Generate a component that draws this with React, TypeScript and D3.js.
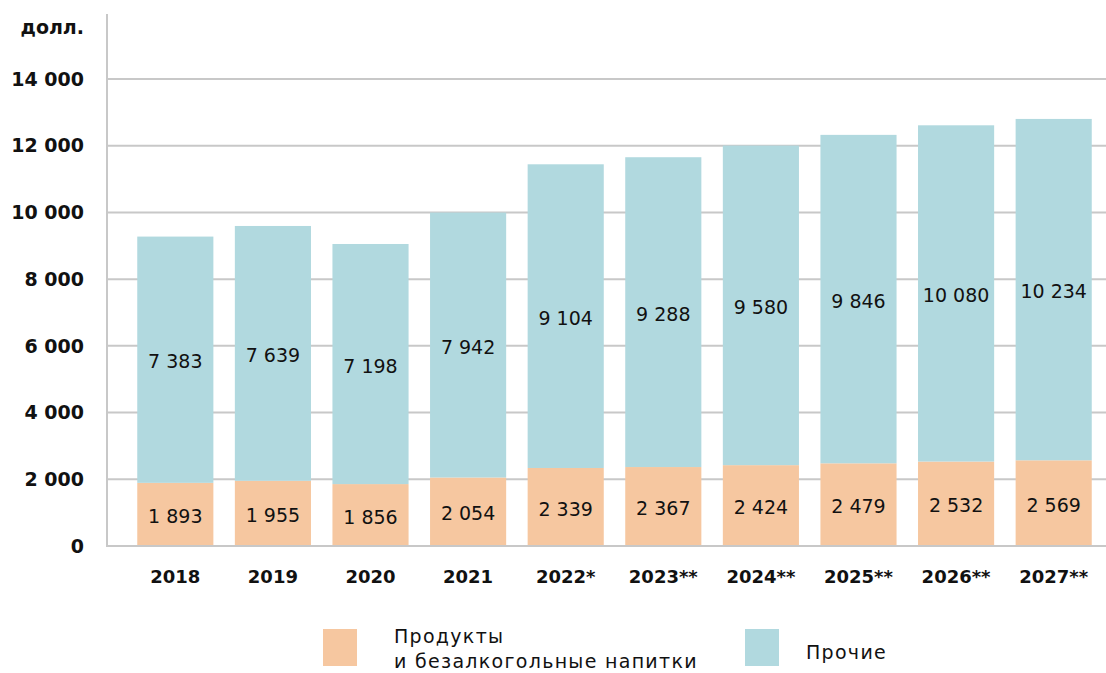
import * as d3 from "d3";

const years = ["2018", "2019", "2020", "2021", "2022*", "2023**", "2024**", "2025**", "2026**", "2027**"];
const food = [1893, 1955, 1856, 2054, 2339, 2367, 2424, 2479, 2532, 2569];
const other = [7383, 7639, 7198, 7942, 9104, 9288, 9580, 9846, 10080, 10234];
const yTicks = [0, 2000, 4000, 6000, 8000, 10000, 12000, 14000];
const legendItems = [
  { lines: ["Продукты", "и безалкогольные напитки"], color: "#F6C7A0" },
  { lines: ["Прочие"], color: "#B1D9DF" },
];

const W = 1106, H = 673;
const FONT = "'DejaVu Sans', 'Noto Sans', sans-serif";

const fmt = (v: number) => {
  const s = String(v);
  return s.length > 3 ? s.slice(0, s.length - 3) + " " + s.slice(-3) : s;
};

export default function App() {
  const x = d3.scaleBand<string>().domain(years).range([107, 1122]).paddingInner(0.22).paddingOuter(0.31);
  const y = d3.scaleLinear().domain([0, 14000]).range([546, 79]);

  return (
    <svg width={W} height={H} style={{ position: "absolute", left: 0, top: 0, fontFamily: FONT }}>
      {/* сетка */}
      {yTicks.map((t) => (
        <g key={t}>
          <line x1={107} x2={W} y1={y(t)} y2={y(t)} stroke="#c8c8c8" strokeWidth={2} />
          <text x={84} y={y(t)} dy="0.35em" textAnchor="end" fontSize={19} fontWeight={700} fill="#111">
            {fmt(t)}
          </text>
        </g>
      ))}
      <line x1={107} x2={107} y1={14} y2={547} stroke="#c8c8c8" strokeWidth={2} />
      <text x={84} y={27} dy="0.35em" textAnchor="end" fontSize={19} fontWeight={700} fill="#111">долл.</text>

      {/* столбцы */}
      {years.map((yr, i) => {
        const bx = x(yr)!;
        const bw = x.bandwidth();
        const f = food[i], o = other[i];
        return (
          <g key={yr}>
            <rect x={bx} width={bw} y={y(f)} height={y(0) - y(f)} fill="#F6C7A0" />
            <rect x={bx} width={bw} y={y(f + o)} height={y(f) - y(f + o)} fill="#B1D9DF" />
            <text x={bx + bw / 2} y={(y(0) + y(f)) / 2 + 2} dy="0.35em" textAnchor="middle" fontSize={19} fill="#111">
              {fmt(f)}
            </text>
            <text x={bx + bw / 2} y={(y(f) + y(f + o)) / 2 + 2} dy="0.35em" textAnchor="middle" fontSize={19} fill="#111">
              {fmt(o)}
            </text>
            <text x={bx + bw / 2} y={577} dy="0.35em" textAnchor="middle" fontSize={18} fontWeight={700} fill="#111">
              {yr}
            </text>
          </g>
        );
      })}
      <line x1={107} x2={W} y1={546} y2={546} stroke="#c8c8c8" strokeWidth={2} />

      {/* легенда */}
      {legendItems.map((it, i) => {
        const lx = i === 0 ? 323 : 745;
        const tx = i === 0 ? 394 : 806;
        return (
          <g key={i}>
            <rect x={lx} y={629} width={34} height={37} fill={it.color} />
            {it.lines.map((l, j) => (
              <text key={j} x={tx} y={it.lines.length === 1 ? 652 : 636 + j * 25} dy="0.35em" fontSize={19} letterSpacing={1.3} fill="#111">
                {l}
              </text>
            ))}
          </g>
        );
      })}
    </svg>
  );
}
